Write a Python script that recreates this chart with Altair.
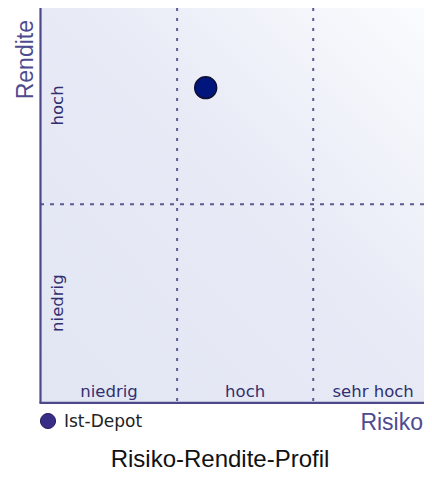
import altair as alt
import pandas as pd

# ---- data ----
risk_levels = ["niedrig", "hoch", "sehr hoch"]
return_levels = ["niedrig", "hoch"]
portfolio_names = ["Ist-Depot"]
portfolio_risk = [1.21]
portfolio_return = [1.59]
chart_title = ["Risiko-Rendite-Profil"]
x_axis_title = ["Risiko"]
y_axis_title = ["Rendite"]

# ---- layout / style ----
X_VISIBLE = 2.88  # the third risk zone is cut off at the right edge
W, H = 384, 394
x_scale = alt.Scale(domain=[0, X_VISIBLE], range=[1, 393], nice=False, zero=False)
y_scale = alt.Scale(domain=[0, len(return_levels)], range=[H, -1.4], nice=False, zero=False)

AXIS_COLOR = "#4b488c"
LABEL_COLOR = "#322f70"
GRID_COLOR = "#5d5b92"
LABEL_FONT = "DejaVu Sans"
TITLE_FONT = "Liberation Sans"

bg_df = pd.DataFrame({"x": [0], "x2": [X_VISIBLE], "y": [0], "y2": [len(return_levels)]})
background = alt.Chart(bg_df).mark_rect(
    color=alt.Gradient(
        gradient="linear",
        stops=[
            alt.GradientStop(color="#e2e6f3", offset=0),
            alt.GradientStop(color="#e8ebf6", offset=0.55),
            alt.GradientStop(color="#fbfcfe", offset=1),
        ],
        x1=0, y1=1, x2=1, y2=0,
    )
).encode(
    x=alt.X("x:Q", scale=x_scale, axis=None),
    x2="x2:Q",
    y=alt.Y("y:Q", scale=y_scale, axis=None),
    y2="y2:Q",
)

vgrid_df = pd.DataFrame({"b": list(range(1, len(risk_levels)))})
vgrid = alt.Chart(vgrid_df).mark_rule(
    color=GRID_COLOR, strokeWidth=2, strokeDash=[3, 7]
).encode(x=alt.X("b:Q", scale=x_scale, axis=None))

hgrid_df = pd.DataFrame({"b": list(range(1, len(return_levels)))})
hgrid = alt.Chart(hgrid_df).mark_rule(
    color=GRID_COLOR, strokeWidth=2, strokeDash=[4, 6]
).encode(y=alt.Y("b:Q", scale=y_scale, axis=None))

left_axis = alt.Chart(bg_df).mark_rule(color=AXIS_COLOR, strokeWidth=2.2).encode(
    x=alt.value(0.5), y=alt.value(-4), y2=alt.value(H + 1)
)
bottom_axis = alt.Chart(bg_df).mark_rule(color=AXIS_COLOR, strokeWidth=2.2).encode(
    y=alt.value(H + 0.8), x=alt.value(-0.5), x2=alt.value(W + 10)
)

x_lab_df = pd.DataFrame({
    "label": risk_levels,
    "pos": [(i + min(i + 1, X_VISIBLE)) / 2 for i in range(len(risk_levels))],
})
x_labels = alt.Chart(x_lab_df).mark_text(
    font=LABEL_FONT, fontSize=16.5, color=LABEL_COLOR, align="center", baseline="alphabetic"
).encode(
    x=alt.X("pos:Q", scale=x_scale, axis=None),
    y=alt.value(389),
    text="label:N",
)

y_lab_df = pd.DataFrame({
    "label": return_levels,
    "pos": [i + 0.5 for i in range(len(return_levels))],
})
y_labels = alt.Chart(y_lab_df).mark_text(
    font=LABEL_FONT, fontSize=16.5, color=LABEL_COLOR, align="center",
    baseline="alphabetic", angle=270,
).encode(
    x=alt.value(23),
    y=alt.Y("pos:Q", scale=y_scale, axis=None),
    text="label:N",
)

pf_df = pd.DataFrame({"name": portfolio_names, "risk": portfolio_risk, "ret": portfolio_return})
points = alt.Chart(pf_df).mark_circle(
    size=480, opacity=1, color="#00167d", stroke="#101030", strokeWidth=1.5
).encode(
    x=alt.X("risk:Q", scale=x_scale, axis=None),
    y=alt.Y("ret:Q", scale=y_scale, axis=None),
)

legend_sym = alt.Chart(pf_df).mark_circle(
    size=230, opacity=1, color="#3a2d86", stroke="#2a2060", strokeWidth=1
).encode(x=alt.value(8), y=alt.value(413))
legend_txt = alt.Chart(pf_df).mark_text(
    font=LABEL_FONT, fontSize=17, color="#222222", align="left", baseline="alphabetic"
).encode(x=alt.value(24), y=alt.value(419), text="name:N")

xt_df = pd.DataFrame({"t": x_axis_title})
x_title = alt.Chart(xt_df).mark_text(
    font=TITLE_FONT, fontSize=23, color="#4e4b8f", align="right", baseline="alphabetic"
).encode(x=alt.value(383), y=alt.value(422), text="t:N")

yt_df = pd.DataFrame({"t": y_axis_title})
y_title = alt.Chart(yt_df).mark_text(
    font=TITLE_FONT, fontSize=23, color="#4e4b8f", align="right",
    baseline="alphabetic", angle=270,
).encode(x=alt.value(-7), y=alt.value(12), text="t:N")

ct_df = pd.DataFrame({"t": chart_title})
main_title = alt.Chart(ct_df).mark_text(
    font=TITLE_FONT, fontSize=24, color="#111111", align="center", baseline="alphabetic"
).encode(x=alt.value(180), y=alt.value(459), text="t:N")

chart = alt.layer(
    background, vgrid, hgrid, left_axis, bottom_axis, x_labels, y_labels,
    points, legend_sym, legend_txt, x_title, y_title, main_title,
).properties(
    width=W,
    height=H,
    autosize=alt.AutoSizeParams(type="none"),
    padding={"left": 32, "top": 0, "right": 0, "bottom": 71},
    background="white",
).configure_view(strokeWidth=0)

chart.save("out.html", embed_options={"renderer": "svg", "actions": False})
